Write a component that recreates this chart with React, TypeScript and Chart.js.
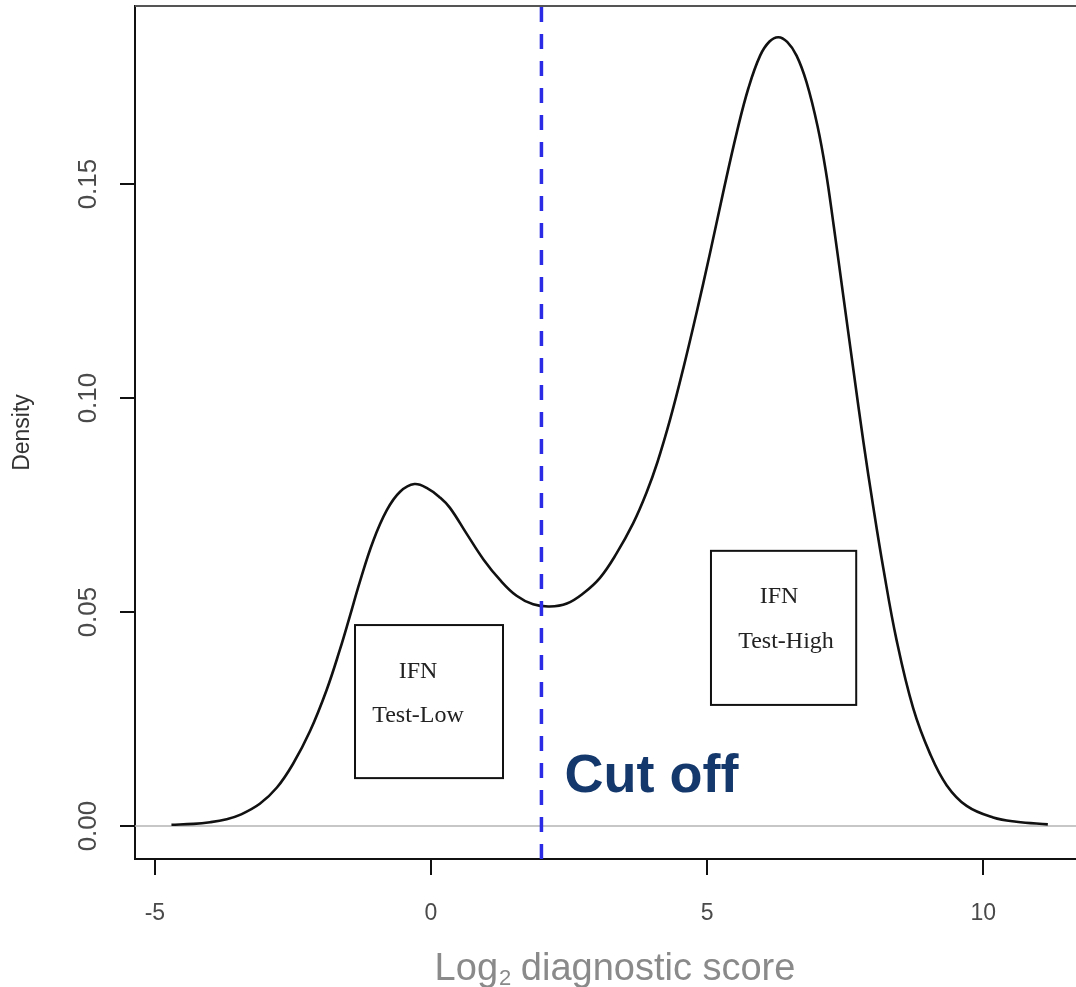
import React, { useEffect, useRef } from "react";
import { Chart, registerables } from "chart.js";

Chart.register(...registerables);

// ---- data ----
const scoreX = [
  -4.7, -4.3, -4.0, -3.7, -3.46, -3.1, -2.79, -2.5, -2.19, -1.89, -1.65, -1.47,
  -1.29, -1.05, -0.8, -0.56, -0.3, -0.05, 0.15, 0.34, 0.65, 0.95, 1.25, 1.55,
  1.85, 2.15, 2.46, 2.76, 3.06, 3.36, 3.66, 3.9, 4.1, 4.33, 4.57, 4.81, 5.05,
  5.29, 5.54, 5.75, 5.96, 6.13, 6.29, 6.45, 6.62, 6.8, 7.0, 7.15, 7.29, 7.47,
  7.65, 7.83, 8.01, 8.19, 8.43, 8.73, 9.04, 9.34, 9.7, 10.18, 10.6, 11.17,
];
const densityY = [
  0.0003, 0.0005, 0.0009, 0.0016, 0.0026, 0.0052, 0.009, 0.0145, 0.0222,
  0.0318, 0.0412, 0.049, 0.057, 0.0665, 0.0738, 0.0781, 0.0799, 0.0788, 0.0769,
  0.0744, 0.0682, 0.0623, 0.0575, 0.0538, 0.0518, 0.0513, 0.052, 0.0544, 0.058,
  0.0637, 0.0707, 0.0778, 0.085, 0.095, 0.107, 0.12, 0.1337, 0.148, 0.1622,
  0.1725, 0.18, 0.1833, 0.1843, 0.1832, 0.18, 0.1738, 0.1635, 0.153, 0.1405,
  0.1235, 0.1065, 0.0898, 0.0745, 0.0603, 0.0435, 0.0276, 0.0168, 0.0095,
  0.0047, 0.002, 0.001, 0.0004,
];
const cutoffValue = [2];
const xTickValues = [-5, 0, 5, 10];
const yTickValues = [0, 0.05, 0.1, 0.15];
const yTickLabels = ["0.00", "0.05", "0.10", "0.15"];
const xRange = [-5.36, 11.68];
const yRange = [-0.0077, 0.1916];
const groupLabels = [
  ["IFN", "Test-Low"],
  ["IFN", "Test-High"],
];
const cutoffLabel = "Cut off";
const yTitle = "Density";
const xTitleParts = ["Log", "2", " diagnostic score"];

// ---- annotation placement (data coordinates) ----
const boxPlacement = [
  { x0: -1.376, x1: 1.304, yTop: 0.04696, yBot: 0.0112, dx: [63, 63], dy: [53, 97] },
  { x0: 5.07, x1: 7.7, yTop: 0.0643, yBot: 0.0283, dx: [68, 75], dy: [52, 97] },
];

const SANS = '"Liberation Sans", Arial, Helvetica, sans-serif';
const SERIF = '"Liberation Serif", "Times New Roman", serif';

const annotationPlugin = {
  id: "annotations",
  afterDatasetsDraw(chart: any) {
    const { ctx, chartArea, scales } = chart;
    const xs = scales.x;
    const ys = scales.y;
    ctx.save();
    // top frame line
    ctx.strokeStyle = "#555";
    ctx.lineWidth = 2;
    ctx.beginPath();
    ctx.moveTo(chartArea.left, chartArea.top);
    ctx.lineTo(chartArea.right, chartArea.top);
    ctx.stroke();

    // label boxes
    boxPlacement.forEach((b, i) => {
      const l = xs.getPixelForValue(b.x0);
      const r = xs.getPixelForValue(b.x1);
      const t = ys.getPixelForValue(b.yTop);
      const bt = ys.getPixelForValue(b.yBot);
      ctx.strokeStyle = "#111";
      ctx.lineWidth = 2;
      ctx.strokeRect(l, t, r - l, bt - t);
      ctx.fillStyle = "#222";
      ctx.font = `24px ${SERIF}`;
      ctx.textAlign = "center";
      ctx.textBaseline = "alphabetic";
      groupLabels[i].forEach((txt, j) => {
        ctx.fillText(txt, l + b.dx[j], t + b.dy[j]);
      });
    });

    // Cut off label
    const cx = xs.getPixelForValue(cutoffValue[0]);
    ctx.fillStyle = "#14386b";
    ctx.font = `bold 54px ${SANS}`;
    ctx.textAlign = "left";
    ctx.textBaseline = "alphabetic";
    ctx.fillText(cutoffLabel, cx + 23, ys.getPixelForValue(0) - 34);

    // x axis title with subscript
    ctx.fillStyle = "#8a8a8a";
    const mainFont = `38px ${SANS}`;
    const subFont = `22px ${SANS}`;
    ctx.font = mainFont;
    const w0 = ctx.measureText(xTitleParts[0]).width;
    const w2 = ctx.measureText(xTitleParts[2]).width;
    ctx.font = subFont;
    const w1 = ctx.measureText(xTitleParts[1]).width;
    const total = w0 + w1 + w2;
    const centerX = 615;
    let px = centerX - total / 2;
    const base = 980;
    ctx.font = mainFont;
    ctx.fillText(xTitleParts[0], px, base);
    px += w0 + 1;
    ctx.font = subFont;
    ctx.fillText(xTitleParts[1], px, base + 5);
    px += w1 - 1;
    ctx.font = mainFont;
    ctx.fillText(xTitleParts[2], px, base);
    ctx.restore();
  },
};

export default function App() {
  const canvasRef = useRef<HTMLCanvasElement | null>(null);

  useEffect(() => {
    if (!canvasRef.current) return;
    const curve = scoreX.map((x, i) => ({ x, y: densityY[i] }));
    const cutLine = [
      { x: cutoffValue[0], y: yRange[0] },
      { x: cutoffValue[0], y: yRange[1] },
    ];
    const zeroLine = [
      { x: xRange[0], y: 0 },
      { x: xRange[1], y: 0 },
    ];
    const chart = new Chart(canvasRef.current, {
      type: "line",
      data: {
        datasets: [
          {
            label: "Cut off",
            data: cutLine,
            borderColor: "#2b2be6",
            borderWidth: 3.5,
            borderDash: [15, 12],
            pointRadius: 0,
            fill: false,
          },
          {
            label: "Density",
            data: curve,
            borderColor: "#111",
            borderWidth: 2.6,
            pointRadius: 0,
            tension: 0.4,
            fill: false,
          },
          {
            label: "zero",
            data: zeroLine,
            borderColor: "#b4b4b4",
            borderWidth: 1.5,
            pointRadius: 0,
            fill: false,
          },
        ],
      },
      options: {
        responsive: false,
        animation: false,
        events: [],
        layout: { padding: { top: 6, left: 0, right: 0, bottom: 0 } },
        plugins: {
          legend: { display: false },
          tooltip: { enabled: false },
        },
        scales: {
          x: {
            type: "linear",
            min: xRange[0],
            max: xRange[1],
            afterBuildTicks: (s: any) => {
              s.ticks = xTickValues.map((v) => ({ value: v }));
            },
            afterFit: (s: any) => {
              s.height = 128;
              s.paddingLeft = 0;
              s.paddingRight = 0;
            },
            ticks: {
              autoSkip: false,
              maxRotation: 0,
              color: "#4a4a4a",
              font: { family: SANS, size: 23 },
              padding: 25,
              callback: (v: any) => String(v),
            },
            grid: {
              drawOnChartArea: false,
              drawTicks: true,
              tickLength: 16,
              color: "#111",
              lineWidth: 2,
            },
            border: { display: true, color: "#111", width: 2 },
          },
          y: {
            type: "linear",
            min: yRange[0],
            max: yRange[1],
            afterBuildTicks: (s: any) => {
              s.ticks = yTickValues.map((v) => ({ value: v }));
            },
            afterFit: (s: any) => {
              s.width = 135;
              s.paddingTop = 0;
              s.paddingBottom = 0;
            },
            title: {
              display: true,
              text: yTitle,
              color: "#333",
              font: { family: SANS, size: 23 },
              padding: { top: 9, bottom: 0 },
            },
            ticks: {
              autoSkip: false,
              minRotation: 90,
              maxRotation: 90,
              crossAlign: "center",
              color: "#4a4a4a",
              font: { family: SANS, size: 26 },
              padding: 6,
              callback: (v: any) => {
                const idx = yTickValues.indexOf(v);
                return idx >= 0 ? yTickLabels[idx] : "";
              },
            },
            grid: {
              drawOnChartArea: false,
              drawTicks: true,
              tickLength: 15,
              color: "#111",
              lineWidth: 2,
            },
            border: { display: true, color: "#111", width: 2 },
          },
        },
      } as any,
      plugins: [annotationPlugin],
    });
    return () => chart.destroy();
  }, []);

  return (
    <canvas
      ref={canvasRef}
      width={1076}
      height={987}
      style={{ position: "absolute", left: 0, top: 0, background: "#fff" }}
    />
  );
}
